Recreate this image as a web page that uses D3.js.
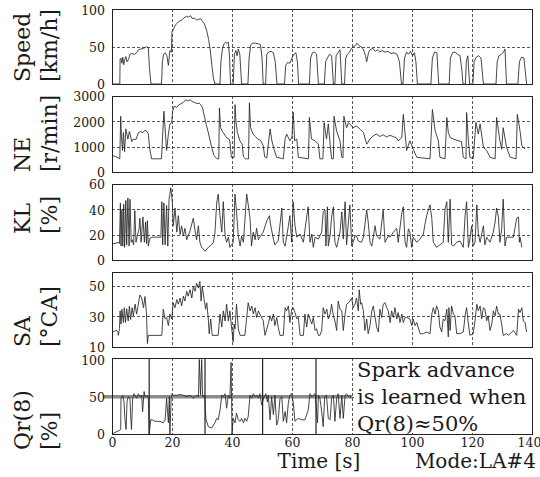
<!DOCTYPE html>
<html>
<head>
<meta charset="utf-8">
<script src="https://cdn.jsdelivr.net/npm/d3@7"></script>
<style>
  body { margin: 0; background: #fff; }
  svg { display: block; }
  text { font-family: "DejaVu Serif", serif; fill: #1a1a1a; }
</style>
</head>
<body>
<script>
// time [s], value pairs
const speed = [[0,0],[2.6,0],[2.7,33],[3.0,35],[3.3,28],[3.6,36],[3.9,26],[4.2,32],[4.6,37],[5.0,30],[5.5,33],[6.0,40],[6.6,41],[7.5,40],[8.2,42],[8.8,46],[9.5,47],[10.5,48],[11.5,50],[12.1,49],[12.5,20],[13.0,0],
  [16.5,0],[16.8,30],[17.2,40],[17.8,42],[18.3,38],[18.8,25],[19.3,45],[19.8,43],[20.0,70],[20.6,75],[21.2,80],[21.8,82],[22.5,85],[23.2,86],[24.0,89],[24.8,91],[25.5,90],[26.2,92],[26.8,88],[27.5,89],[28.2,86],[28.8,87],[29.5,88],[30.2,84],[30.8,81],[31.5,73],[32.2,60],[32.7,47],[33.3,25],[33.8,8],[34.3,0],
  [36.0,0],[36.3,30],[36.8,47],[37.3,54],[37.8,56],[38.3,55],[38.8,56],[39.2,35],[39.5,0],[40.4,0],[40.8,40],[41.3,45],[41.7,38],[42.1,47],[42.6,40],[43.2,0],
  [45.3,0],[45.7,35],[46.2,52],[46.8,55],[47.8,55],[48.8,54],[49.5,53],[50.0,35],[50.4,0],[51.2,0],[51.6,40],[52.2,43],[53.0,44],[53.8,42],[54.4,30],[55.0,0],
  [57.5,0],[57.9,25],[58.5,29],[59.3,28],[60.0,35],[60.6,40],[61.3,42],[61.8,30],[62.2,0],[65.8,0],[66.2,35],[66.8,42],[67.5,43],[68.2,40],[68.8,0],
  [70.8,0],[71.2,30],[71.8,35],[72.5,40],[73.2,38],[73.8,0],[74.3,0],[74.7,38],[75.3,42],[76.0,46],[76.6,0],[77.5,0],[77.9,35],[78.5,40],[79.2,43],[79.8,48],[80.4,50],[81.2,52],[81.6,55],[82.3,52],[83.0,50],[83.8,47],[84.5,38],[84.9,30],[85.5,42],[86.0,46],[87.0,48],[87.8,44],[88.5,46],[89.3,43],[90.0,45],[91.0,43],[92.0,44],[93.0,41],[94.0,42],[95.0,40],[95.8,30],[96.5,0],
  [97.0,0],[97.5,35],[98.2,43],[98.8,40],[99.5,44],[100.2,38],[100.8,42],[101.3,30],[101.8,0],[106.3,0],[106.8,35],[107.5,43],[108.3,42],[108.9,0],
  [112.4,0],[112.8,35],[113.5,42],[114.3,43],[115.2,40],[116.0,38],[116.6,20],[117.0,0],[117.8,0],[118.1,30],[118.6,38],[119.2,0],[120.3,0],[120.7,30],[121.4,36],[122.2,38],[123.0,35],[123.8,0],
  [128.0,0],[128.4,30],[129.0,38],[129.8,40],[130.5,43],[131.0,47],[131.5,0],[135.3,0],[135.8,30],[136.5,36],[137.3,35],[138.2,0]];

const ne = [[0,650],[1.0,620],[2.0,560],[2.6,520],[2.9,2200],[3.1,1500],[3.5,850],[3.8,1560],[4.2,800],[4.6,1700],[5.3,1300],[5.8,1600],[6.6,1200],[7.2,1300],[8.0,1280],[8.8,1550],[9.5,1600],[10.3,1550],[11.0,1650],[11.7,1600],[12.1,1500],[12.6,900],[13.2,520],
  [16.5,520],[16.9,1500],[17.3,2400],[17.7,1700],[18.2,850],[18.8,1500],[19.3,1900],[19.9,1950],[20.2,2400],[20.8,2600],[21.5,2550],[22.3,2650],[23.0,2700],[23.8,2750],[24.6,2850],[25.3,2800],[26.0,2860],[26.7,2780],[27.5,2750],[28.3,2700],[29.0,2720],[29.6,2650],[30.2,2530],[30.8,2200],[31.4,1880],[32.0,1600],[32.7,1240],[33.4,900],[34.0,650],[35.0,520],
  [35.6,520],[35.8,2530],[36.2,1750],[36.8,1600],[37.4,1500],[38.2,1350],[39.0,1300],[39.3,1200],[39.8,580],[40.7,560],[41.0,2660],[41.3,2000],[41.8,1560],[42.6,1240],[43.4,1100],[43.8,600],[44.5,520],
  [45.5,520],[45.8,2730],[46.2,1750],[47.0,1500],[47.8,1400],[48.6,1300],[49.5,1250],[50.4,1040],[50.9,600],[51.6,560],[52.2,1200],[52.7,1700],[53.3,1230],[54.0,900],[54.9,580],
  [57.1,520],[57.7,1300],[58.2,1500],[59.3,1230],[60.0,1400],[60.4,2350],[60.9,1230],[61.6,1300],[62.1,580],[65.5,520],[65.8,2150],[66.5,1300],[67.7,1230],[68.8,1100],[69.3,520],
  [70.3,520],[70.7,1950],[71.5,1300],[72.1,1900],[72.7,1100],[73.2,520],[73.8,520],[74.0,2200],[74.9,1600],[76.0,1230],[76.6,580],[77.0,560],[77.3,2200],[78.2,1750],[78.8,1950],[79.3,1900],[80.4,1750],[81.5,1820],[82.7,1690],[83.8,1560],[84.9,1100],[86.0,1300],[87.1,1430],[88.2,1500],[89.3,1400],[90.4,1470],[91.5,1380],[92.6,1450],[93.7,1400],[94.8,1350],[95.4,1230],[96.6,1360],
  [97.1,2275],[97.7,1500],[98.2,850],[99.3,1230],[100.4,900],[101.6,580],[106.0,520],[106.8,2470],[107.7,1630],[108.8,1230],[109.3,580],
  [111.0,520],[111.6,2150],[112.1,1560],[112.7,1360],[113.8,1300],[115.0,1250],[116.5,1200],[117.1,580],[118.0,520],[118.2,2350],[118.8,1230],[119.3,580],[120.4,520],[121.3,1960],[122.1,1500],[122.7,1900],[123.8,980],[124.9,850],[126.0,580],
  [127.7,520],[128.2,2150],[129.3,1230],[129.9,900],[130.4,1750],[131.5,980],[132.7,580],[134.7,520],[135.1,2275],[136.0,1630],[136.6,1040],[137.7,900]];

const kl = [[0,13],[1,13],[2.0,14],[2.5,13],[2.8,45],[3.0,11],[3.3,40],[3.6,11],[3.9,44],[4.2,10],[4.6,47],[4.9,12],[5.3,49],[5.7,11],[6.0,48],[6.4,14],[6.8,16],[7.2,12],[7.6,39],[8.0,14],[8.4,19],[9.0,24],[9.3,33],[9.7,14],[10.3,34],[10.8,14],[11.2,30],[11.5,13],[11.8,31],[12.1,11],[12.6,17],[13.5,18],[15.0,18],[16.3,18],
  [16.6,46],[16.9,12],[17.3,45],[17.7,12],[18.2,43],[18.6,11],[19.0,48],[19.3,52],[19.6,57],[20.1,46],[20.4,27],[21.0,41],[21.6,22],[22.1,35],[22.7,20],[23.2,27],[23.8,19],[24.3,25],[24.9,16],[26.0,23],[27.1,33],[27.7,23],[28.2,16],[28.8,27],[29.3,14],[29.9,10],[31.0,7],[32.1,10],[33.2,12],[33.8,14],[34.3,21],
  [34.9,45],[35.4,52],[36.0,35],[36.6,22],[37.1,46],[37.7,19],[38.2,14],[38.8,18],[39.3,10],[40.4,14],[41.0,52],[41.5,38],[42.1,19],[42.7,11],[43.2,19],[43.8,14],[44.9,52],[45.4,44],[46.0,33],[46.5,11],[47.1,22],[47.7,16],[48.2,25],[48.8,16],[49.3,18],[50.4,22],[51.6,31],[52.5,35],
  [52.7,30],[53.8,16.5],[54.3,12],[55.4,15],[56.6,41],[57.1,14],[57.7,11],[58.8,27],[59.3,35],[59.9,14],[60.4,46],[61.0,27],[61.6,18],[62.7,20.5],[63.8,14],[64.9,34],[65.4,42],[66.0,14],[66.6,20.5],[67.1,10],[67.7,18],[68.8,16.5],[69.9,22],
  [70.4,38],[71.0,39.5],[71.3,11],[71.8,42],[72.1,11],[72.7,19],[73.2,34],[73.8,42],[74.3,14],[74.9,10],[76.0,22],[76.6,38],[77.1,16.5],[77.7,46],[78.2,12],[78.8,30],[79.3,43.5],[79.9,11],[80.4,14],[81.0,19],[81.5,19],[82.1,15],[83.2,14],[83.8,18],
  [84.9,39.5],[85.4,30],[86.0,14],[86.6,11],[87.7,27],[88.2,19],[89.3,16.5],[90.4,39.5],[91.0,14],[92.1,19],[92.7,18],[93.8,22],[94.9,25],[95.4,14],[96.6,37],[97.1,42],[97.7,14],[98.2,10],[98.8,24.6],[99.3,22],[99.9,10],[100.4,18],[101.6,14],[102.7,16.5],[103.8,20.5],
  [104.3,28],[104.9,35],[106.0,43.5],[106.6,33],[107.1,14],[108.2,10],[109.3,12],[110.4,14],[111.0,40],[111.6,46],[112.1,14],[112.7,48],[113.2,12],[113.8,11],[114.9,14],[116.0,15],[117.1,10],[117.7,35],[118.2,46],[118.8,10],[119.3,16.5],[119.9,27],[120.4,11],[121.0,14],
  [121.6,43.5],[122.1,20.5],[122.7,14],[123.8,27],[124.3,12],[124.9,18],[126.0,14],[127.1,22],[127.7,30],[128.2,41],[128.8,34],[129.3,14],[129.9,25],[130.4,48],[131.0,11],[131.5,18],[132.7,18],[133.8,18],[134.9,33],[135.5,34],[135.8,14],[136.0,18],[136.6,10]];

const sa = [[0,21],[0.5,20],[1.5,21],[2.0,19.5],[2.1,17.6],[2.5,22],[2.7,33.6],[3.0,25],[3.3,34.7],[3.8,26],[4.1,35.7],[4.5,26],[4.9,35],[5.4,27],[5.8,36.8],[6.2,28],[6.7,35.7],[7.1,30.4],[7.7,38],[8.2,31.5],[9.3,44],[9.9,42],[10.5,35.7],[11.0,43],[11.5,31.5],[11.8,12.3],[12.1,17.6],[16.6,17.6],
  [17.1,34.7],[17.7,28.3],[18.2,29.3],[18.8,24],[19.3,31.5],[19.9,28.3],[20.4,38.9],[21.0,35.7],[21.6,41],[22.1,38],[22.7,42],[23.2,36.8],[23.8,43.2],[24.3,40],[24.9,46.4],[25.4,43.2],[26.0,47.4],[26.6,42],[27.1,49.6],[27.7,46.4],[28.2,51.7],[28.8,48.5],[29.3,52.8],[29.7,40],[30.1,49.6],[30.7,41],[31.2,34.7],[31.6,38.9],[32.1,28.3],[32.4,18.7],[32.9,28.3],[33.4,17.6],[35.4,17.6],
  [36.0,31.5],[36.6,23],[37.1,33.6],[37.7,27],[38.2,38],[38.8,27],[39.3,33.6],[39.9,21.9],[40.4,13.4],[40.7,25],[41.0,21.9],[41.5,38],[42.1,21.9],[42.7,17.6],[44.3,17.6],[44.9,29.3],[45.4,38.9],[46.0,33.6],[46.6,36.8],[47.1,31.5],[47.7,35.7],[48.2,29.3],[48.8,33.6],[49.3,31.5],[50.4,27.2],[51.0,17.6],[52.2,26],
  [52.7,30.4],[53.2,27],[53.8,31.5],[54.3,24],[54.9,29.3],[55.4,23],[56.0,17.6],[57.1,17.6],[57.7,35.7],[58.2,33.6],[58.8,36.8],[59.3,26],[59.9,34.7],[60.4,35.7],[61.0,32.5],[61.6,28.3],[62.1,29.3],[62.7,17.6],[63.8,17.6],[64.3,31.5],[64.9,23],[65.4,31.5],[66.0,28.3],[66.6,25],[67.1,29.3],[67.7,20.8],[68.2,21.9],[68.8,17.6],[69.3,17.6],
  [69.9,20.8],[70.4,35.7],[71.0,31.5],[71.6,34.7],[72.1,28.3],[72.7,31.5],[73.2,37.9],[73.8,30.4],[74.3,27],[74.9,20.8],[75.4,40],[76.0,34.7],[76.6,33.6],[77.1,20.8],[77.7,31.5],[78.2,37.9],[78.8,38.9],[79.3,40],[79.9,42],[80.4,35.7],[81.0,37.9],[81.5,42],[82.1,33.6],[82.4,47.4],[82.9,37.9],[83.2,38.9],[83.8,33.6],[84.3,20.8],[84.9,28.3],[85.4,18.7],
  [86.0,24],[86.6,33.6],[87.1,36.8],[87.7,29.3],[88.2,23],[88.8,19.8],[89.3,34.7],[89.9,29.3],[90.4,37.9],[91.0,38.9],[91.6,35.7],[92.1,33.6],[92.7,26],[93.2,33.6],[93.8,29.3],[94.3,35.7],[94.9,28.3],[95.4,32.5],[96.0,26],[96.6,31.5],[97.1,26],[97.7,29.3],[98.2,29.3],[99.3,28.3],[99.9,24],[100.4,28.3],[101.0,24],[101.6,26],[102.7,18.7],[103.8,18.7],[104.9,19.8],[106.0,18.7],
  [106.6,31.5],[107.1,35.7],[107.7,31.5],[108.2,36.8],[108.8,33.6],[109.3,23],[109.9,19.8],[110.4,28.3],[111.0,27.2],[111.6,34.7],[112.1,16.6],[112.3,35.7],[112.7,20.8],[113.2,36.8],[113.8,31.5],[114.3,30.4],[114.9,18.7],[116.0,18.7],[117.1,19.8],[117.7,30.4],[118.2,35.7],[118.8,25],[119.3,17.6],[120.4,18.7],
  [121.0,27.2],[121.6,37.9],[122.1,33.6],[122.7,36.8],[123.2,28.3],[123.8,35.7],[124.3,34.7],[124.9,27.2],[125.4,30.4],[126.0,20.8],[126.6,25],[127.1,33.6],[127.7,30.4],[128.2,36.8],[128.8,31.5],[129.3,31.5],[129.9,25],[130.4,17.6],[131.5,18.7],[132.1,17.6],[132.7,18.7],[133.8,20.8],[134.9,17.6],[135.5,34.7],[136.0,32.5],[136.6,35.7],[137.1,27],[137.7,26],[138.2,19.8]];

const qr = [[0,0],[1.0,2],[2.5,5],[2.9,6],[3.0,48],[3.6,52],[4.0,43],[4.3,21],[4.7,6],[5.0,43],[5.4,50],[6.0,48],[6.2,26],[6.5,6],[6.9,48],[7.3,54],[7.7,52],[8.2,48],[8.8,54],[9.3,50],[9.9,52],[10.2,30],[10.7,57],[11.0,50],[11.6,52],[12.1,48],[12.4,0],
  [12.9,19],[13.5,19],[14.3,17],[16.0,17],[17.1,15],[17.7,19],[18.2,48],[18.8,15],[19.1,50],[19.3,0],[19.7,48],[20.0,54],[20.4,52],[21.6,52],[22.7,53],[23.8,52],[24.9,50],[26.0,52],[27.1,48],[28.2,52],[28.8,50],[29.1,100],[29.5,52],[29.9,100],[30.2,50],[30.9,52],
  [31.3,20],[32.1,10],[33.2,8],[34.3,15],[34.9,21],[35.4,19],[36.0,32],[36.6,52],[37.1,50],[37.7,54],[38.2,34.5],[38.8,52],[39.3,48],[39.7,96],[40.0,0],[40.4,21],[41.0,15],[41.5,28],[42.1,19],[42.7,17],[43.2,21],[43.8,15],[44.3,21],[44.9,17],[45.4,23.5],
  [46.0,52],[46.6,48],[47.1,54],[47.7,50],[48.2,52],[48.8,48],[49.3,54],[49.9,39],[50.7,50],[51.3,54],[51.8,43],[52.1,52],[52.7,19],[53.2,50],[53.8,26],[54.3,52],[54.9,12],[55.4,19],[56.0,48],[56.6,50],[57.1,17],[57.7,30],[58.2,15],[58.8,43],[59.3,52],[59.9,54],[60.4,43],
  [61.0,17],[62.1,21],[63.2,19],[64.3,19],[65.4,32],[66.0,54],[66.6,50],[67.1,52],[67.7,54],[68.5,15],[68.8,52],[69.3,48],[69.9,30],[70.4,10],[70.9,50],[71.5,52],[72.1,21],[72.7,19],[73.2,48],[73.8,52],[74.3,17],[74.9,48],[75.4,54],[76.0,21],[76.6,52],[77.1,21],[77.7,52],[78.2,54],[78.8,50],[79.3,52],[79.6,48]];

// full-height Qr(8) jumps
const qrResets = [12.4, 31.0, 50.2, 68.0];
const xTicks = [0, 20, 40, 60, 80, 100, 120, 140];
const note = ["Spark advance", "is learned when", "Qr(8)\u224850%"];

const W = 540, H = 477;
const svg = d3.select("body").append("svg").attr("width", W).attr("height", H);

const x = d3.scaleLinear().domain([0, 140]).range([112, 532]);

const panels = [
  {label: ["Speed", "[km/h]"], data: speed, domain: [0, 101], ticks: [0, 50, 100], grid: [50], top: 9, bottom: 84, labelY: 82},
  {label: ["NE", "[r/min]"], data: ne, domain: [0, 3000], ticks: [0, 1000, 2000, 3000], grid: [1000, 2000], top: 96, bottom: 172, labelY: 172},
  {label: ["KL", "[%]"], data: kl, domain: [0, 60], ticks: [0, 20, 40, 60], grid: [20, 40], top: 184, bottom: 260, labelY: 234},
  {label: ["SA", "[\u00b0CA]"], data: sa, domain: [10, 59], ticks: [10, 30, 50], grid: [30, 50], top: 272, bottom: 347, labelY: 347},
  {label: ["Qr(8)", "[%]"], data: qr, domain: [0, 102], ticks: [0, 50, 100], grid: [50], top: 358, bottom: 434, labelY: 450}
];

panels.forEach((p, i) => {
  const y = d3.scaleLinear().domain(p.domain).range([p.bottom, p.top]);
  const g = svg.append("g");

  g.append("clipPath").attr("id", "clip" + i)
    .append("rect").attr("x", x(0)).attr("y", p.top)
    .attr("width", x(140) - x(0)).attr("height", p.bottom - p.top);

  // grid
  g.selectAll(".vg").data([20, 40, 60, 80, 100, 120]).join("line")
    .attr("x1", d => x(d) + 0.5).attr("x2", d => x(d) + 0.5)
    .attr("y1", p.top).attr("y2", p.bottom)
    .attr("stroke", "#444").attr("stroke-width", 0.9).attr("stroke-dasharray", "3,2");
  g.selectAll(".hg").data(p.grid).join("line")
    .attr("x1", x(0)).attr("x2", x(140))
    .attr("y1", d => Math.round(y(d)) + 0.5).attr("y2", d => Math.round(y(d)) + 0.5)
    .attr("stroke", "#444").attr("stroke-width", 0.9).attr("stroke-dasharray", "3,2");

  const line = d3.line().x(d => x(d[0])).y(d => y(d[1]));

  if (i === 4) {
    // thick reference band at 50 %
    g.append("line")
      .attr("x1", 103).attr("x2", x(80))
      .attr("y1", y(50)).attr("y2", y(50))
      .attr("stroke", "#8a8a8a").attr("stroke-width", 3.5);
    g.append("g").attr("clip-path", `url(#clip${i})`)
      .selectAll("line").data(qrResets).join("line")
      .attr("x1", d => x(d)).attr("x2", d => x(d))
      .attr("y1", p.top).attr("y2", p.bottom)
      .attr("stroke", "#222").attr("stroke-width", 1.2);
  }

  g.append("path")
    .datum(p.data)
    .attr("clip-path", `url(#clip${i})`)
    .attr("fill", "none")
    .attr("stroke", "#262626")
    .attr("stroke-width", 0.85)
    .attr("d", line);

  // frame
  g.append("rect")
    .attr("x", x(0) + 0.5).attr("y", p.top + 0.5)
    .attr("width", x(140) - x(0)).attr("height", p.bottom - p.top)
    .attr("fill", "none").attr("stroke", "#222").attr("stroke-width", 1);

  // y axis labels
  const ax = g.append("g").attr("transform", `translate(${x(0)},0)`)
    .call(d3.axisLeft(y).tickValues(p.ticks).tickSize(0).tickPadding(7).tickFormat(d3.format("d")));
  ax.select(".domain").remove();
  ax.selectAll("text").attr("font-size", 12.5).attr("font-family", "DejaVu Serif").attr("dy", "0.38em");

  // y title, two lines, left aligned along the rotated baseline
  p.label.forEach((s, k) => {
    g.append("text")
      .attr("transform", `translate(${30 + k * 27},${p.labelY}) rotate(-90)`)
      .attr("text-anchor", "start")
      .attr("font-size", 22)
      .text(s);
  });

  if (i === 4) {
    const xa = svg.append("g").attr("transform", `translate(0,${p.bottom})`)
      .call(d3.axisBottom(x).tickValues(xTicks).tickSize(0).tickPadding(4));
    xa.select(".domain").remove();
    xa.selectAll("text").attr("font-size", 12.5).attr("font-family", "DejaVu Serif")
      .attr("dx", d => d === 140 ? -3 : 0);

    // note box
    g.append("rect")
      .attr("x", x(80) + 2).attr("y", p.top + 1)
      .attr("width", x(140) - x(80) - 2.5).attr("height", p.bottom - p.top - 3)
      .attr("fill", "#fff");
    g.selectAll(".note").data(note).join("text")
      .attr("x", 357).attr("y", (d, k) => 377 + k * 27)
      .attr("font-size", 21)
      .text(d => d);
  }
});

svg.append("text").attr("x", 319).attr("y", 468)
  .attr("text-anchor", "middle").attr("font-size", 20).text("Time [s]");
svg.append("text").attr("x", 536).attr("y", 468)
  .attr("text-anchor", "end").attr("font-size", 20).text("Mode:LA#4");
</script>
</body>
</html>
